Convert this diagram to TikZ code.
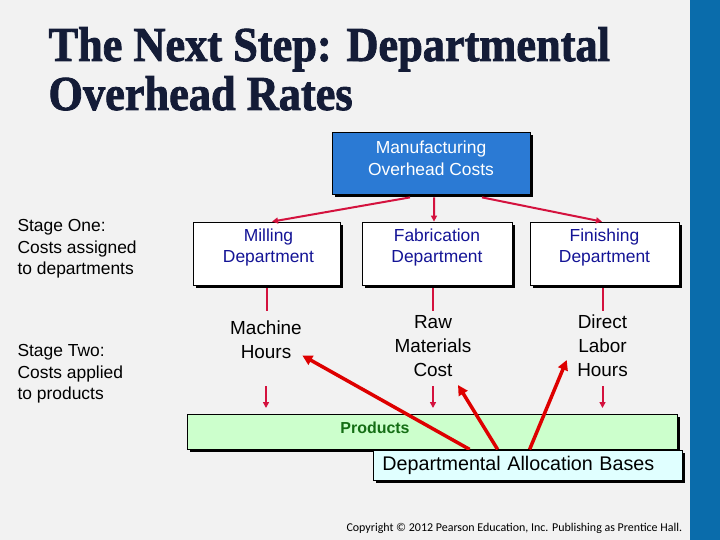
\documentclass[tikz,border=0pt]{standalone}
\usepackage{fontspec}
\setmainfont{Liberation Sans}
\newfontfamily\titlefont{Liberation Serif}[BoldFeatures={FakeBold=1.8}]
\newfontfamily\copyfont{Carlito}
\usetikzlibrary{arrows.meta,shadows}

\definecolor{bggray}{RGB}{242,242,242}
\definecolor{stripblue}{RGB}{10,108,171}
\definecolor{mfgblue}{RGB}{43,122,212}
\definecolor{deptnavy}{RGB}{20,20,150}
\definecolor{linkred}{RGB}{212,18,62}
\definecolor{basered}{RGB}{222,0,0}
\definecolor{prodgreen}{RGB}{204,255,204}
\definecolor{prodtext}{RGB}{20,110,20}
\definecolor{basecyan}{RGB}{224,255,255}
\definecolor{titlenavy}{RGB}{20,28,55}

% slightly tall title lettering
\newcommand\talltitle[1]{\scalebox{1}[1.1]{#1}}

\tikzset{
  box/.style={draw=black, line width=0.8bp, inner sep=0pt,
    drop shadow={shadow xshift=3bp, shadow yshift=-3bp, fill=black, opacity=1}},
  deptbox/.style={box, fill=white, minimum width=#1, minimum height=63bp},
  depttext/.style={text=deptnavy, align=center, font=\fontsize{17.5}{21}\selectfont},
  basetext/.style={align=center, font=\fontsize{19}{24}\selectfont},
  stagetext/.style={anchor=west, align=left, font=\fontsize{17.5}{21.5}\selectfont},
  link/.style={draw=linkred, line width=2bp, -{Triangle[length=6bp,width=6bp]}},
  stub/.style={draw=linkred, line width=2bp},
  basearrow/.style={draw=basered, line width=3.5bp, -{Triangle[length=10bp,width=10bp]}},
  titletext/.style={anchor=base west, text=titlenavy, font=\titlefont\bfseries\fontsize{44.5}{50}\selectfont}
}

\begin{document}
\begin{tikzpicture}[x=1bp,y=-1bp]
  \fill[bggray] (0,0) rectangle (690,540);
  \fill[stripblue] (690,0) rectangle (720,540);
  \useasboundingbox (0,0) rectangle (720,540);

  % title
  \node[titletext] (head) at (45,61) {\talltitle{The Next Step: Departmental}};
  \node[titletext] (sub) at (45,110) {\talltitle{Overhead Rates}};

  % stages
  \node[stagetext] (one) at (14,249) {Stage One:\\Costs assigned\\to departments};
  \node[stagetext] (two) at (14,374) {Stage Two:\\Costs applied\\to products};

  % boxes
  \node[box, fill=mfgblue, minimum width=198bp, minimum height=62bp] (mfg) at (431,163) {};
  \node[text=white, align=center, font=\fontsize{17.5}{22}\selectfont] (mfgtext)
    at ([yshift=5bp]mfg.center) {Manufacturing\\Overhead Costs};

  \node[deptbox=147bp] (mill) at (266.5,253.5) {};
  \node[deptbox=150bp] (fab) at (437,253.5) {};
  \node[deptbox=149bp] (fin) at (604.5,253.5) {};
  \node[depttext] (milltext) at ([xshift=2bp,yshift=6bp]mill.center) {Milling\\Department};
  \node[depttext] (fabtext) at ([yshift=6bp]fab.center) {Fabrication\\Department};
  \node[depttext] (fintext) at ([yshift=6bp]fin.center) {Finishing\\Department};

  \node[box, fill=prodgreen, minimum width=490bp, minimum height=35bp] (prod) at (432,431.5) {};
  \node[text=prodtext, font=\bfseries\fontsize{16}{19}\selectfont] (prodtext) at (375,428) {Products};

  % allocation bases
  \node[basetext] (mh) at (266,340) {Machine\\Hours};
  \node[basetext] (rmc) at (433,346) {Raw\\Materials\\Cost};
  \node[basetext] (dlh) at (602.5,346) {Direct\\Labor\\Hours};

  % stage one
  \draw[link] ([xshift=-21bp,yshift=-3bp]mfg.south) -- ([xshift=5.5bp]mill.north);
  \draw[link] ([xshift=3bp,yshift=-3bp]mfg.south) -- ([xshift=-3bp]fab.north);
  \draw[link] ([xshift=51bp,yshift=-3bp]mfg.south) -- ([xshift=-2.5bp]fin.north);

  % stage two
  \draw[stub] ([yshift=-3bp]mill.south) -- ++(0,23);
  \draw[stub] ([yshift=-3bp]fab.south -| rmc) -- ++(0,23);
  \draw[stub] ([yshift=-3bp]fin.south -| dlh) -- ++(0,23);
  \coordinate (dropa) at (0,386);
  \coordinate (dropb) at (0,408);
  \draw[link] (mh |- dropa) -- (mh |- dropb);
  \draw[link] (rmc |- dropa) -- (rmc |- dropb);
  \draw[link] (dlh |- dropa) -- (dlh |- dropb);

  \draw[basearrow] ([xshift=283bp]prod.south west) -- ([xshift=-3bp,yshift=7bp]mh.south east);
  \draw[basearrow] ([xshift=311bp]prod.south west) -- ([xshift=25bp,yshift=-5bp]rmc.south);
  \draw[basearrow] ([xshift=343bp]prod.south west) -- ([xshift=-7bp,yshift=-14bp]dlh.west);

  \node[box, fill=basecyan, anchor=west, text width=291bp, align=left, inner xsep=9bp,
    minimum height=30bp, font=\fontsize{19.8}{23}\selectfont] (dab) at (373,465)
    {Departmental Allocation Bases};

  \node[anchor=west, font=\copyfont\fontsize{12}{14}\selectfont] (copy) at (343,528)
    {Copyright © 2012 Pearson Education, Inc. Publishing as Prentice Hall.};
\end{tikzpicture}
\end{document}
